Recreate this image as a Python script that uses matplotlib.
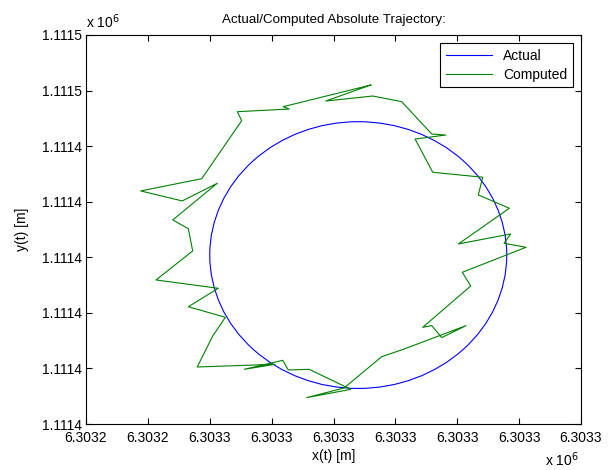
import matplotlib.pyplot as plt
from matplotlib.patches import Ellipse
from matplotlib.lines import Line2D
import numpy as np

plt.rcParams['font.family'] = ['Liberation Sans', 'DejaVu Sans']

# reference point of the local grid [m]
x0 = 6303240.0
y0 = 1111420.0

# actual trajectory: circle (offsets from x0, y0) [m]
actual_cx = 22.0
actual_cy = 15.2
actual_r = 12.0

# computed trajectory (offsets from x0, y0) [m]
comp_dx = [23.01, 15.94, 16.43, 12.23, 12.58, 9.35, 4.42, 7.78, 10.61, 7.01,
           8.27, 8.62, 5.66, 10.69, 8.27, 11.26, 10.24, 8.99, 15.27, 12.79,
           15.90, 16.35, 18.04, 21.39, 17.83, 20.85, 23.90, 25.64, 30.71, 28.74,
           27.94, 27.21, 31.09, 30.41, 35.56, 33.78, 34.32, 30.09, 34.21, 31.70,
           32.06, 28.02, 26.59, 29.07, 27.94, 25.51, 23.17, 19.37, 23.01]
comp_dy = [30.50, 28.55, 28.34, 28.10, 27.29, 22.07, 20.97, 20.07, 21.66, 18.36,
           17.57, 15.57, 12.96, 12.21, 10.55, 9.60, 7.92, 5.13, 5.37, 4.92,
           5.73, 4.86, 4.92, 3.12, 2.37, 3.24, 6.06, 6.72, 8.85, 7.77,
           8.85, 8.70, 12.42, 13.65, 15.90, 16.26, 17.10, 16.20, 19.41, 20.61,
           22.20, 22.65, 25.64, 26.00, 26.09, 29.00, 29.51, 29.06, 30.50]

# axis ticks (as MATLAB printed them)
xtick_off = [0, 5, 10, 15, 20, 25, 30, 35, 40]
xtick_labels = ['6.3032', '6.3032', '6.3033', '6.3033', '6.3033',
                '6.3033', '6.3033', '6.3033', '6.3033']
ytick_off = [0, 5, 10, 15, 20, 25, 30, 35]
ytick_labels = ['1.1114', '1.1114', '1.1114', '1.1114', '1.1114',
                '1.1114', '1.1115', '1.1115']

blue = (0, 0, 1)
green = (0, 0.5, 0)

fig = plt.figure(figsize=(6.16, 4.70), dpi=100)
ax = fig.add_axes([86 / 616, 46 / 470, 495 / 616, 389 / 470])

circle = Ellipse((x0 + actual_cx, y0 + actual_cy), 2 * actual_r, 2 * actual_r,
                 fill=False, edgecolor=blue, linewidth=0.8)
ax.add_patch(circle)
ax.plot(x0 + np.array(comp_dx), y0 + np.array(comp_dy), color=green, linewidth=0.8)

ax.set_xlim(x0 + xtick_off[0], x0 + xtick_off[-1])
ax.set_ylim(y0 + ytick_off[0], y0 + ytick_off[-1])
ax.set_xticks([x0 + v for v in xtick_off])
ax.set_xticklabels(xtick_labels)
ax.set_yticks([y0 + v for v in ytick_off])
ax.set_yticklabels(ytick_labels)
ax.tick_params(direction='in', length=4, width=0.8, top=True, right=True,
               labelsize=10)
ax.tick_params(axis='x', pad=5)
ax.tick_params(axis='y', pad=3)
for s in ax.spines.values():
    s.set_linewidth(0.8)

ax.text(0.0, 1.01, r'x 10$^{6}$', transform=ax.transAxes, fontsize=10,
        ha='left', va='bottom')
ax.text(0.995, -0.068, r'x 10$^{6}$', transform=ax.transAxes, fontsize=10,
        ha='right', va='top')

ax.set_title('Actual/Computed Absolute Trajectory:', fontsize=9.6, pad=9)
ax.set_xlabel('x(t) [m]', fontsize=10, labelpad=3)
ax.set_ylabel('y(t) [m]', fontsize=10, labelpad=9)

handles = [Line2D([], [], color=blue, linewidth=0.8),
           Line2D([], [], color=green, linewidth=0.8)]
leg = ax.legend(handles, ['Actual', 'Computed'], loc='upper right',
                fontsize=10, fancybox=False, framealpha=1, edgecolor='black',
                handlelength=3.3, borderaxespad=0.6, labelspacing=0.35)
leg.get_frame().set_linewidth(0.8)

fig.savefig('out.png', dpi=100)
